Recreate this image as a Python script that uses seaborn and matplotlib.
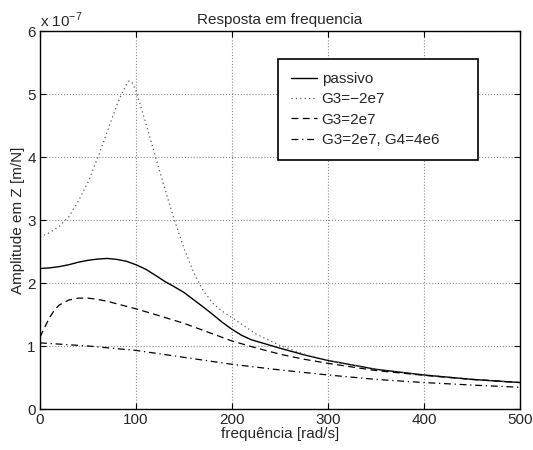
import matplotlib
matplotlib.use("Agg")
import matplotlib.pyplot as plt
import seaborn as sns

# frequency response, amplitudes in units of 1e-7 m/N
freq_passivo = [0, 10, 20, 30, 40, 50, 60, 70, 80, 90, 100, 110, 120, 130, 140, 150,
                160, 170, 180, 190, 200, 210, 220, 230, 240, 250, 275, 300, 350, 400,
                450, 500]
amp_passivo = [2.23, 2.24, 2.26, 2.29, 2.33, 2.36, 2.38, 2.39, 2.375, 2.345, 2.29, 2.22,
               2.125, 2.025, 1.94, 1.85, 1.735, 1.62, 1.50, 1.375, 1.265, 1.17, 1.10,
               1.055, 1.01, 0.965, 0.86, 0.77, 0.63, 0.54, 0.47, 0.42]

freq_neg = [0, 10, 20, 30, 40, 50, 60, 70, 80, 85, 90, 93, 96, 100, 110, 120, 130,
            140, 150, 160, 170, 180, 190, 200, 225, 250, 275, 300, 350, 400, 450, 500]
amp_neg = [2.73, 2.80, 2.90, 3.05, 3.30, 3.60, 3.98, 4.40, 4.82, 5.00, 5.15, 5.21,
           5.18, 5.05, 4.55, 4.02, 3.50, 3.00, 2.55, 2.17, 1.88, 1.68, 1.55, 1.45,
           1.19, 1.01, 0.87, 0.77, 0.63, 0.54, 0.47, 0.42]

freq_pos = [0, 5, 10, 15, 20, 30, 40, 50, 60, 70, 80, 90, 100, 120, 150, 175, 200,
            225, 250, 275, 300, 350, 400, 450, 500]
amp_pos = [1.14, 1.30, 1.45, 1.57, 1.65, 1.73, 1.76, 1.76, 1.74, 1.71, 1.67, 1.63,
           1.59, 1.50, 1.36, 1.22, 1.08, 0.97, 0.87, 0.79, 0.725, 0.61, 0.535, 0.47,
           0.42]

freq_g4 = [0, 50, 100, 150, 200, 250, 300, 350, 400, 450, 500]
amp_g4 = [1.05, 1.00, 0.93, 0.82, 0.71, 0.62, 0.54, 0.47, 0.42, 0.38, 0.345]

sns.set_style("ticks")
plt.rcParams['font.family'] = ['Liberation Sans', 'DejaVu Sans']
plt.rcParams['mathtext.fontset'] = 'custom'
plt.rcParams['mathtext.rm'] = 'Liberation Sans'
plt.rcParams['font.size'] = 11

fig = plt.figure(figsize=(5.33, 4.5), dpi=100)
ax = fig.add_axes([0.075, 0.0911, 0.9006, 0.84])

sns.lineplot(x=freq_passivo, y=amp_passivo, ax=ax, color='k', lw=1.0,
             linestyle='-', label='passivo')
sns.lineplot(x=freq_neg, y=amp_neg, ax=ax, color='0.35', lw=0.9,
             linestyle=(0, (1, 2.5)), label='G3=\u22122e7')
sns.lineplot(x=freq_pos, y=amp_pos, ax=ax, color='k', lw=0.9,
             linestyle=(0, (5.5, 3.5)), label='G3=2e7')
sns.lineplot(x=freq_g4, y=amp_g4, ax=ax, color='k', lw=0.9,
             linestyle=(0, (5.5, 3, 1, 3)), label='G3=2e7, G4=4e6')

ax.set_xlim(0, 500)
ax.set_ylim(0, 6)
ax.set_xticks([0, 100, 200, 300, 400, 500])
ax.set_yticks([0, 1, 2, 3, 4, 5, 6])
ax.grid(True, linestyle=':', color='0.55', lw=0.8)
ax.tick_params(direction='in', length=4, top=True, right=True, labelsize=11,
               color='k', width=0.8, pad=3)
for s in ax.spines.values():
    s.set_color('k')
    s.set_linewidth(1.0)

ax.set_title('Resposta em frequencia', fontsize=11, pad=5)
ax.set_xlabel('frequência [rad/s]', fontsize=11, labelpad=0)
ax.set_ylabel('Amplitude em Z [m/N]', fontsize=11, labelpad=2)
ax.text(0.0, 1.003, r'x 10$^{-7}$', transform=ax.transAxes, ha='left',
        va='bottom', fontsize=11)

leg = ax.legend(loc='upper left', bbox_to_anchor=(0.496, 0.659, 0.4165, 0.267),
                mode='expand', fancybox=False, framealpha=1, edgecolor='k',
                fontsize=11, handlelength=1.7, handletextpad=0.3,
                borderpad=0.85, labelspacing=0.42, borderaxespad=0)
leg.get_frame().set_linewidth(1.2)

fig.savefig('out.png', dpi=100)
